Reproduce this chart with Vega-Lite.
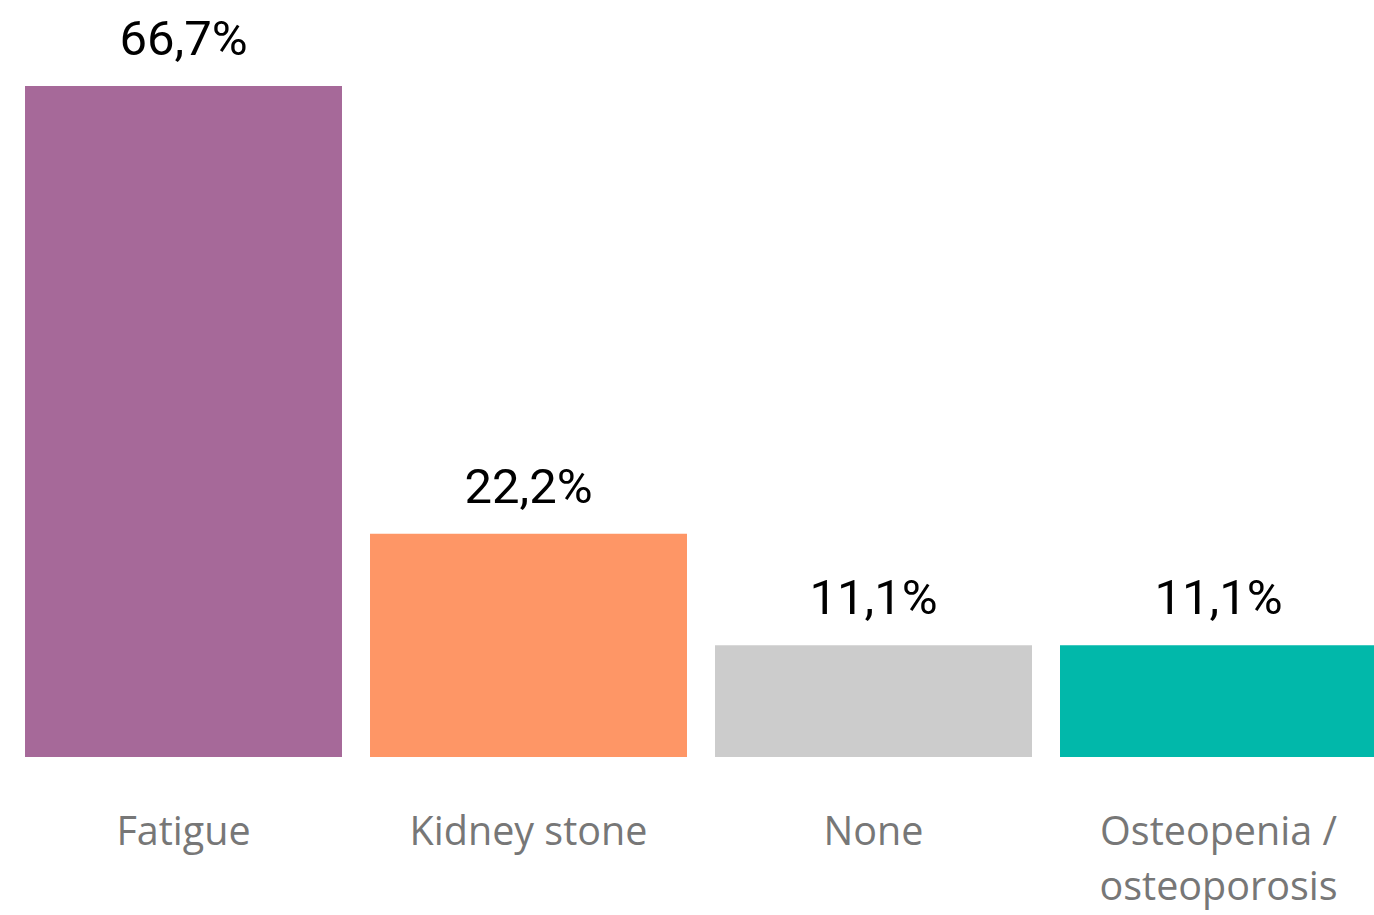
{
  "$schema": "https://vega.github.io/schema/vega-lite/v6.json",
  "autosize": {"type": "none"},
  "width": 1402,
  "height": 671,
  "padding": {"left": 0, "top": 86, "right": 0, "bottom": 158},
  "background": "white",
  "config": {"view": {"stroke": null}},
  "data": {"values": [
    {"category": "Fatigue", "pct": 66.7, "label": "66,7%"},
    {"category": "Kidney stone", "pct": 22.2, "label": "22,2%"},
    {"category": "None", "pct": 11.1, "label": "11,1%"},
    {"category": "Osteopenia / osteoporosis", "pct": 11.1, "label": "11,1%"}
  ]},
  "encoding": {
    "x": {
      "field": "category", "type": "nominal", "sort": null,
      "scale": {"paddingInner": 0.0812, "paddingOuter": 0.0725},
      "axis": {
        "title": null, "domain": false, "ticks": false, "labelAngle": 0,
        "labelFont": "Open Sans", "labelFontSize": 39.5, "labelColor": "#777777",
        "labelPadding": 56, "labelLineHeight": 55, "labelLimit": 400,
        "labelExpr": "datum.value == 'Osteopenia / osteoporosis' ? ['Osteopenia /', 'osteoporosis'] : datum.value"
      }
    },
    "y": {"field": "pct", "type": "quantitative", "scale": {"domain": [0, 66.7], "nice": false}, "axis": null}
  },
  "layer": [
    {
      "mark": {"type": "bar"},
      "encoding": {
        "color": {
          "field": "category", "type": "nominal", "sort": null, "legend": null,
          "scale": {"range": ["#A66999", "#FE9666", "#CCCCCC", "#01B8AA"]}
        }
      }
    },
    {
      "mark": {"type": "text", "font": "Roboto", "fontSize": 49, "color": "#000000", "baseline": "alphabetic", "dy": -31},
      "encoding": {"text": {"field": "label"}}
    }
  ]
}
